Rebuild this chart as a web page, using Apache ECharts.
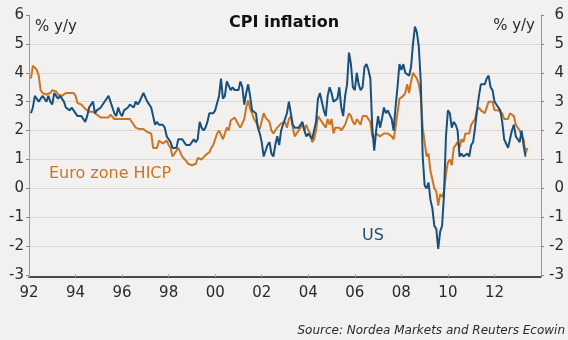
<!DOCTYPE html>
<html>
<head>
<meta charset="utf-8">
<script src="https://cdn.jsdelivr.net/npm/echarts@6/dist/echarts.min.js"></script>
<style>
html,body{margin:0;padding:0;background:#f2f1ef;}
#chart{width:568px;height:340px;}
</style>
</head>
<body>
<div id="chart"></div>
<script>
// Monthly data, Jan 1992 onwards (% y/y)
const startYear = 1992;
const euroHICP = [
  3.8, 4.25, 4.2, 4.1, 3.9, 3.4, 3.3, 3.3, 3.25, 3.3, 3.3, 3.4,      // 1992
  3.4, 3.35, 3.25, 3.2, 3.2, 3.25, 3.3, 3.3, 3.3, 3.3, 3.3, 3.2,     // 1993
  2.95, 2.9, 2.9, 2.85, 2.75, 2.75, 2.65, 2.65, 2.65, 2.6, 2.55, 2.5,// 1994
  2.45, 2.45, 2.45, 2.4, 2.45, 2.55, 2.55, 2.4, 2.4, 2.4, 2.4, 2.4,  // 1995
  2.4, 2.4, 2.4, 2.4, 2.4, 2.2, 2.1, 2.05, 2.05, 2.05, 2.05, 2.0,    // 1996
  1.95, 1.95, 1.9, 1.4, 1.45, 1.4, 1.65, 1.65, 1.55, 1.6, 1.65, 1.5, // 1997
  1.4, 1.1, 1.2, 1.3, 1.4, 1.35, 1.1, 1.05, 0.95, 0.85, 0.8, 0.8,    // 1998
  0.8, 0.85, 1.05, 1.1, 1.0, 0.95, 1.15, 1.2, 1.25, 1.4, 1.5, 1.7,   // 1999
  1.9, 2.0, 1.95, 1.7, 1.9, 2.1, 2.0, 2.35, 2.4, 2.45, 2.5, 2.2,     // 2000
  2.1, 2.05, 2.4, 2.8, 3.05, 2.75, 2.6, 2.4, 2.3, 2.15, 2.05, 2.05,  // 2001
  2.6, 2.45, 2.5, 2.3, 2.0, 1.9, 2.0, 2.1, 2.1, 2.25, 2.3, 2.3,      // 2002
  2.1, 2.4, 2.5, 2.1, 1.8, 1.9, 1.9, 2.1, 2.2, 2.0, 2.2, 2.0,        // 2003
  1.9, 1.6, 1.7, 2.0, 2.5, 2.4, 2.3, 2.3, 2.1, 2.4, 2.2, 2.4,        // 2004
  1.9, 2.1, 2.1, 2.1, 2.0, 2.1, 2.2, 2.2, 2.6, 2.5, 2.3, 2.2,        // 2005
  2.4, 2.3, 2.2, 2.5, 2.5, 2.5, 2.4, 2.3, 1.8, 1.7, 1.9, 1.9,        // 2006
  1.8, 1.8, 1.9, 1.9, 1.9, 1.9, 1.8, 1.7, 2.1, 2.6, 3.1, 3.1,        // 2007
  3.2, 3.3, 3.6, 3.3, 3.7, 4.0, 4.0, 3.8, 3.6, 3.2, 2.1, 1.6,        // 2008
  1.1, 1.2, 0.6, 0.6, 0.0, -0.1, -0.6, -0.2, -0.3, -0.1, 0.5, 0.9,   // 2009
  1.0, 0.8, 1.4, 1.5, 1.6, 1.4, 1.7, 1.6, 1.9, 1.9, 1.9, 2.2,        // 2010
  2.3, 2.4, 2.7, 2.8, 2.7, 2.7, 2.6, 2.6, 3.0, 3.0, 3.0, 2.7,        // 2011
  2.7, 2.7, 2.7, 2.6, 2.4, 2.4, 2.4, 2.6, 2.6, 2.5, 2.2, 2.2,        // 2012
  2.0, 1.8, 1.7, 1.2, 1.4                                            // 2013
];
const usCPI = [
  2.6, 2.8, 3.2, 3.2, 3.0, 3.1, 3.2, 3.1, 3.0, 3.2, 3.0, 2.9,        // 1992
  3.3, 3.2, 3.1, 3.2, 3.2, 3.0, 2.8, 2.8, 2.7, 2.8, 2.7, 2.7,        // 1993
  2.5, 2.5, 2.5, 2.4, 2.3, 2.5, 2.8, 2.9, 3.0, 2.6, 2.7, 2.7,        // 1994
  2.8, 2.9, 2.9, 3.1, 3.2, 3.0, 2.8, 2.6, 2.5, 2.8, 2.6, 2.5,        // 1995
  2.7, 2.7, 2.8, 2.9, 2.9, 2.8, 3.0, 2.9, 3.0, 3.0, 3.3, 3.3,        // 1996
  3.0, 3.0, 2.8, 2.5, 2.2, 2.3, 2.2, 2.2, 2.2, 2.1, 1.8, 1.7,        // 1997
  1.6, 1.4, 1.4, 1.4, 1.7, 1.7, 1.7, 1.6, 1.5, 1.5, 1.5, 1.6,        // 1998
  1.7, 1.6, 1.7, 2.3, 2.1, 2.0, 2.1, 2.3, 2.6, 2.6, 2.6, 2.7,        // 1999
  2.7, 3.2, 3.8, 3.1, 3.2, 3.7, 3.7, 3.4, 3.5, 3.4, 3.4, 3.4,        // 2000
  3.7, 3.5, 2.9, 3.3, 3.6, 3.2, 2.7, 2.7, 2.6, 2.1, 1.9, 1.6,        // 2001
  1.1, 1.1, 1.5, 1.6, 1.2, 1.1, 1.5, 1.8, 1.5, 2.0, 2.2, 2.4,        // 2002
  2.6, 3.0, 3.0, 2.2, 2.1, 2.1, 2.1, 2.2, 2.3, 2.0, 1.8, 1.9,        // 2003
  1.9, 1.7, 1.7, 2.3, 3.1, 3.3, 3.0, 2.7, 2.5, 3.2, 3.5, 3.3,        // 2004
  3.0, 3.0, 3.1, 3.5, 2.8, 2.5, 3.2, 3.6, 4.7, 4.3, 3.5, 3.4,        // 2005
  4.0, 3.6, 3.4, 3.5, 4.2, 4.3, 4.1, 3.8, 2.1, 1.3, 2.0, 2.5,        // 2006
  2.1, 2.4, 2.8, 2.6, 2.7, 2.7, 2.4, 2.0, 2.8, 3.5, 4.3, 4.1,        // 2007
  4.3, 4.0, 4.0, 3.9, 4.2, 5.0, 5.6, 5.4, 4.9, 3.7, 1.1, 0.1,        // 2008
  0.0, 0.2, -0.4, -0.7, -1.3, -1.4, -2.1, -1.5, -1.3, -0.2, 1.8, 2.7,// 2009
  2.6, 2.1, 2.3, 2.2, 2.0, 1.1, 1.2, 1.1, 1.1, 1.2, 1.1, 1.5,        // 2010
  1.6, 2.1, 2.7, 3.2, 3.6, 3.6, 3.6, 3.8, 3.9, 3.5, 3.4, 3.0,        // 2011
  2.9, 2.9, 2.7, 2.3, 1.7, 1.7, 1.4, 1.7, 2.0, 2.2, 1.8, 1.7,        // 2012
  1.6, 2.0, 1.5, 1.1                                                 // 2013
];
const seriesNames = ['Euro zone HICP', 'US'];
const xMin = 1992, xMax = 2014, xStep = 2;
const yMin = -3, yMax = 6, yStep = 1;

// month i is placed at the end of its month
const toPairs = arr => arr.map((v, i) => [startYear + (i + 1) / 12, v]);

const FONT = 'DejaVu Sans, Verdana, sans-serif';
const ORANGE = '#cc7420';
const BLUE = '#17507c';

const gridColors = [];
for (let v = yMin; v <= yMax; v += yStep) {
  gridColors.push(v === yMin || v === yMax ? 'rgba(0,0,0,0)' : '#d9d8d6');
}

const chart = echarts.init(document.getElementById('chart'), null, {renderer: 'canvas'});
chart.setOption({
  backgroundColor: '#f2f1ef',
  animation: false,
  title: {
    text: 'CPI inflation',
    left: 'center',
    top: 10,
    textStyle: {fontFamily: FONT, fontSize: 16, fontWeight: 'bold', color: '#111'}
  },
  grid: {left: 29, right: 27, top: 15, bottom: 65},
  xAxis: {
    type: 'value',
    min: xMin, max: xMax, interval: xStep,
    offset: 2,
    axisLine: {show: true, onZero: false, lineStyle: {color: '#111', width: 1.5}},
    axisTick: {show: true, inside: true, length: 3, lineStyle: {color: '#aaa'}},
    splitLine: {show: false},
    axisLabel: {
      margin: 9, showMaxLabel: false,
      fontFamily: FONT, fontSize: 15, color: '#2a2a2a',
      formatter: v => String(v % 100).padStart(2, '0')
    }
  },
  yAxis: [{
    type: 'value', position: 'left',
    min: yMin, max: yMax, interval: yStep,
    axisLine: {show: true, onZero: false, lineStyle: {color: '#999'}},
    axisTick: {show: true, length: 3, lineStyle: {color: '#888'}},
    splitLine: {show: true, lineStyle: {color: gridColors, width: 1}},
    axisLabel: {margin: 5, fontFamily: FONT, fontSize: 15, color: '#2a2a2a'}
  }, {
    type: 'value', position: 'right',
    min: yMin, max: yMax, interval: yStep,
    axisLine: {show: true, onZero: false, lineStyle: {color: '#999'}},
    axisTick: {show: true, length: 3, lineStyle: {color: '#888'}},
    splitLine: {show: false},
    axisLabel: {margin: 23, align: 'right', fontFamily: FONT, fontSize: 15, color: '#2a2a2a'}
  }],
  series: [{
    name: seriesNames[0], type: 'line', data: toPairs(euroHICP),
    showSymbol: false, symbol: 'none',
    lineStyle: {color: ORANGE, width: 2}, z: 2
  }, {
    name: seriesNames[1], type: 'line', data: toPairs(usCPI),
    showSymbol: false, symbol: 'none',
    lineStyle: {color: BLUE, width: 2}, z: 3
  }],
  graphic: [
    {type: 'text', x: 35, y: 27, style: {text: '% y/y', fontFamily: FONT, fontSize: 15, fill: '#2a2a2a', align: 'left', verticalAlign: 'middle'}},
    {type: 'text', x: 535, y: 26, style: {text: '% y/y', fontFamily: FONT, fontSize: 15, fill: '#2a2a2a', align: 'right', verticalAlign: 'middle'}},
    {type: 'text', x: 49, y: 174, style: {text: seriesNames[0], fontFamily: FONT, fontSize: 16, fill: ORANGE, align: 'left', verticalAlign: 'middle'}},
    {type: 'text', x: 362, y: 236, style: {text: seriesNames[1], fontFamily: FONT, fontSize: 16, fill: BLUE, align: 'left', verticalAlign: 'middle'}},
    {type: 'text', x: 565, y: 331, style: {text: 'Source: Nordea Markets and Reuters Ecowin', fontFamily: FONT, fontSize: 12, fontStyle: 'italic', fill: '#2a2a2a', align: 'right', verticalAlign: 'middle'}}
  ]
});
</script>
</body>
</html>
